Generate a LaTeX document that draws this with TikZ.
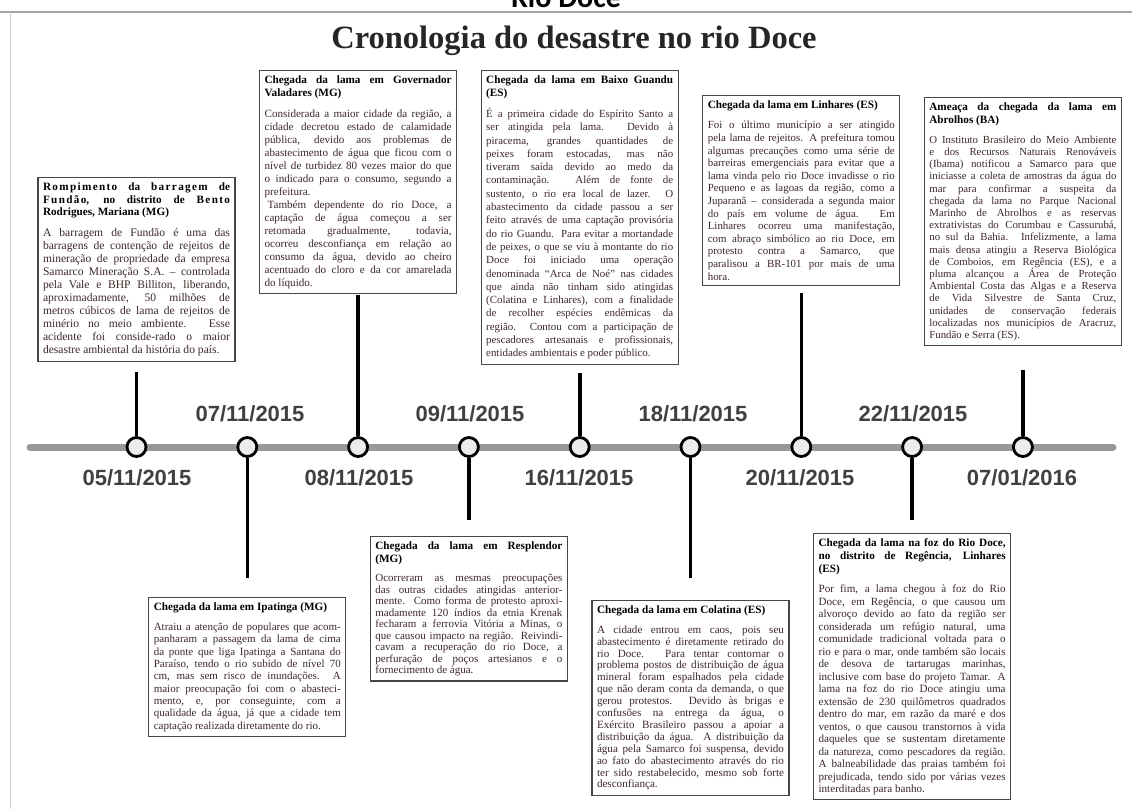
\documentclass[tikz,border=0pt]{standalone}
\usepackage{fontspec}
\setmainfont{Liberation Serif}
\newfontfamily\datefont{Liberation Sans}
\newfontfamily\hdrfont{Carlito}
\newfontfamily\spacedbold{Liberation Serif}[LetterSpace=12]
\definecolor{bodytxt}{RGB}{62,40,40}
\definecolor{datecol}{RGB}{64,64,64}
\definecolor{linegray}{RGB}{153,153,153}
\definecolor{framegray}{RGB}{165,165,165}
\definecolor{circfill}{RGB}{236,236,236}
\definecolor{boxline}{RGB}{70,70,70}
\newcommand\nl{\unskip\break}
\newcommand\evhead[1]{{\fontsize{11.2}{12.8}\selectfont\bfseries\color{black}#1\par}\vspace{8pt}}
\newcommand\evbody[3]{{\fontsize{#1}{#2}\selectfont\color{bodytxt}#3\par}}
\newcommand\lspaced[1]{{\spacedbold\bfseries #1}}
\tikzset{
  evbox/.style={draw=boxline, line width=1.1pt, fill=white, inner sep=5pt, text width=187pt, align=justify, anchor=north},
  evdot/.style={circle, draw=black, line width=2.8pt, fill=circfill, minimum size=19pt, inner sep=0pt},
  evstem/.style={draw=black, line width=3.6pt},
  evdate/.style={font=\datefont\bfseries\fontsize{22}{24}\selectfont, text=datecol, inner sep=0pt, anchor=base},
}
\begin{document}
\begin{tikzpicture}[x=1pt,y=-1pt]
\useasboundingbox (0,0) rectangle (1132,809);
% frame lines and header
\node[font=\hdrfont\bfseries\fontsize{30}{32}\selectfont, anchor=base, inner sep=0pt] (hdr) at (566,7) {Rio Doce};
\coordinate (fl) at (0,12);
\coordinate (fr) at (1132,12);
\coordinate (fb) at (10,809);
\coordinate (ft) at (10,12);
\draw[framegray, line width=1.5pt] (fl) -- (fr);
\draw[framegray!50, line width=0.8pt] (ft) -- (fb);
\node[font=\bfseries\fontsize{32.5}{36}\selectfont, anchor=base, inner sep=0pt, text=black!85] (title) at (574,48) {Cronologia do desastre no rio Doce};
% timeline
\coordinate (tl) at (30,447);
\coordinate (tr) at (1113,447);
\draw[linegray, line width=7pt, line cap=round] (tl) -- (tr);
% stem ends
\coordinate (s1) at (136.5,372);
\coordinate (s2) at (247.3,578);
\coordinate (s3) at (358.1,295);
\coordinate (s4) at (468.9,520);
\coordinate (s5) at (579.7,373);
\coordinate (s6) at (690.5,578);
\coordinate (s7) at (801.3,293);
\coordinate (s8) at (912.1,520);
\coordinate (s9) at (1022.9,370);
% circles
\node[evdot] (c1) at (136.5,447) {};
\node[evdot] (c2) at (247.3,447) {};
\node[evdot] (c3) at (358.1,447) {};
\node[evdot] (c4) at (468.9,447) {};
\node[evdot] (c5) at (579.7,447) {};
\node[evdot] (c6) at (690.5,447) {};
\node[evdot] (c7) at (801.3,447) {};
\node[evdot] (c8) at (912.1,447) {};
\node[evdot] (c9) at (1022.9,447) {};
\draw[evstem] (c1.north) -- (s1);
\draw[evstem] (c2.south) -- (s2);
\draw[evstem] (c3.north) -- (s3);
\draw[evstem] (c4.south) -- (s4);
\draw[evstem] (c5.north) -- (s5);
\draw[evstem] (c6.south) -- (s6);
\draw[evstem] (c7.north) -- (s7);
\draw[evstem] (c8.south) -- (s8);
\draw[evstem] (c9.north) -- (s9);
% dates
\node[evdate] (d1) at (137,485) {05/11/2015};
\node[evdate] (d2) at (250,421) {07/11/2015};
\node[evdate] (d3) at (359,485) {08/11/2015};
\node[evdate] (d4) at (470,421) {09/11/2015};
\node[evdate] (d5) at (579,485) {16/11/2015};
\node[evdate] (d6) at (693,421) {18/11/2015};
\node[evdate] (d7) at (800,485) {20/11/2015};
\node[evdate] (d8) at (913,421) {22/11/2015};
\node[evdate] (d9) at (1022,485) {07/01/2016};
% upper boxes
\node[evbox] (b1) at (136.5,177) {\evhead{\lspaced{Rompimento} da \lspaced{barragem} de\nl \lspaced{Fundão}, no distrito de \lspaced{Bento}\nl Rodrigues, Mariana (MG)}\evbody{11.6}{13}{A barragem de Fundão é uma das\nl
barragens de contenção de rejeitos de\nl
mineração de propriedade da empresa\nl
Samarco Mineração S.A. – controlada\nl
pela Vale e BHP Billiton, liberando,\nl
aproximadamente, 50 milhões de\nl
metros cúbicos de lama de rejeitos de\nl
minério no meio ambiente. Esse\nl
acidente foi conside-rado o maior\nl
desastre ambiental da história do país.}};
\node[evbox] (b2) at (358.1,70) {\evhead{Chegada da lama em Governador\nl Valadares (MG)}\evbody{11.1}{13}{Considerada a maior cidade da região, a\nl
cidade decretou estado de calamidade\nl
pública, devido aos problemas de\nl
abastecimento de água que ficou com o\nl
nível de turbidez 80 vezes maior do que\nl
o indicado para o consumo, segundo a\nl
prefeitura.\par
\hspace*{3pt}Também dependente do rio Doce, a\nl
captação de água começou a ser\nl
retomada gradualmente, todavia,\nl
ocorreu desconfiança em relação ao\nl
consumo da água, devido ao cheiro\nl
acentuado do cloro e da cor amarelada\nl
do líquido.}};
\node[evbox] (b3) at (579.7,70) {\evhead{Chegada da lama em Baixo Guandu\nl (ES)}\evbody{10.9}{13.3}{É a primeira cidade do Espírito Santo a\nl
ser atingida pela lama. Devido à\nl
piracema, grandes quantidades de\nl
peixes foram estocadas, mas não\nl
tiveram saída devido ao medo da\nl
contaminação. Além de fonte de\nl
sustento, o rio era local de lazer. O\nl
abastecimento da cidade passou a ser\nl
feito através de uma captação provisória\nl
do rio Guandu. Para evitar a mortandade\nl
de peixes, o que se viu à montante do rio\nl
Doce foi iniciado uma operação\nl
denominada “Arca de Noé” nas cidades\nl
que ainda não tinham sido atingidas\nl
(Colatina e Linhares), com a finalidade\nl
de recolher espécies endêmicas da\nl
região. Contou com a participação de\nl
pescadores artesanais e profissionais,\nl
entidades ambientais e poder público.}};
\node[evbox] (b4) at (801.3,95) {\evhead{Chegada da lama em Linhares (ES)}\evbody{10.9}{12.6}{Foi o último município a ser atingido\nl
pela lama de rejeitos. A prefeitura tomou\nl
algumas precauções como uma série de\nl
barreiras emergenciais para evitar que a\nl
lama vinda pelo rio Doce invadisse o rio\nl
Pequeno e as lagoas da região, como a\nl
Juparanã – considerada a segunda maior\nl
do país em volume de água. Em\nl
Linhares ocorreu uma manifestação,\nl
com abraço simbólico ao rio Doce, em\nl
protesto contra a Samarco, que\nl
paralisou a BR-101 por mais de uma\nl
hora.}};
\node[evbox] (b5) at (1022.9,97) {\evhead{Ameaça da chegada da lama em\nl Abrolhos (BA)}\evbody{10.8}{12.2}{O Instituto Brasileiro do Meio Ambiente\nl
e dos Recursos Naturais Renováveis\nl
(Ibama) notificou a Samarco para que\nl
iniciasse a coleta de amostras da água do\nl
mar para confirmar a suspeita da\nl
chegada da lama no Parque Nacional\nl
Marinho de Abrolhos e as reservas\nl
extrativistas do Corumbau e Cassurubá,\nl
no sul da Bahia. Infelizmente, a lama\nl
mais densa atingiu a Reserva Biológica\nl
de Comboios, em Regência (ES), e a\nl
pluma alcançou a Área de Proteção\nl
Ambiental Costa das Algas e a Reserva\nl
de Vida Silvestre de Santa Cruz,\nl
unidades de conservação federais\nl
localizadas nos municípios de Aracruz,\nl
Fundão e Serra (ES).}};
% lower boxes
\node[evbox] (b6) at (247.3,597) {\evhead{Chegada da lama em Ipatinga (MG)}\evbody{11}{12.3}{Atraiu a atenção de populares que acom-\nl
panharam a passagem da lama de cima\nl
da ponte que liga Ipatinga a Santana do\nl
Paraíso, tendo o rio subido de nível 70\nl
cm, mas sem risco de inundações. A\nl
maior preocupação foi com o abasteci-\nl
mento, e, por conseguinte, com a\nl
qualidade da água, já que a cidade tem\nl
captação realizada diretamente do rio.}};
\node[evbox] (b7) at (468.9,536) {\evhead{Chegada da lama em Resplendor\nl (MG)}\evbody{11}{11.5}{Ocorreram as mesmas preocupações\nl
das outras cidades atingidas anterior-\nl
mente. Como forma de protesto aproxi-\nl
madamente 120 índios da etnia Krenak\nl
fecharam a ferrovia Vitória a Minas, o\nl
que causou impacto na região. Reivindi-\nl
cavam a recuperação do rio Doce, a\nl
perfuração de poços artesianos e o\nl
fornecimento de água.}};
\node[evbox] (b8) at (690.5,600) {\evhead{Chegada da lama em Colatina (ES)}\evbody{11.1}{11.9}{A cidade entrou em caos, pois seu\nl
abastecimento é diretamente retirado do\nl
rio Doce. Para tentar contornar o\nl
problema postos de distribuição de água\nl
mineral foram espalhados pela cidade\nl
que não deram conta da demanda, o que\nl
gerou protestos. Devido às brigas e\nl
confusões na entrega da água, o\nl
Exército Brasileiro passou a apoiar a\nl
distribuição da água. A distribuição da\nl
água pela Samarco foi suspensa, devido\nl
ao fato do abastecimento através do rio\nl
ter sido restabelecido, mesmo sob forte\nl
desconfiança.}};
\node[evbox] (b9) at (912.1,533) {\evhead{Chegada da lama na foz do Rio Doce,\nl no distrito de Regência, Linhares\nl (ES)}\evbody{11.1}{12.5}{Por fim, a lama chegou à foz do Rio\nl
Doce, em Regência, o que causou um\nl
alvoroço devido ao fato da região ser\nl
considerada um refúgio natural, uma\nl
comunidade tradicional voltada para o\nl
rio e para o mar, onde também são locais\nl
de desova de tartarugas marinhas,\nl
inclusive com base do projeto Tamar. A\nl
lama na foz do rio Doce atingiu uma\nl
extensão de 230 quilômetros quadrados\nl
dentro do mar, em razão da maré e dos\nl
ventos, o que causou transtornos à vida\nl
daqueles que se sustentam diretamente\nl
da natureza, como pescadores da região.\nl
A balneabilidade das praias também foi\nl
prejudicada, tendo sido por várias vezes\nl
interditadas para banho.}};
\end{tikzpicture}
\end{document}
